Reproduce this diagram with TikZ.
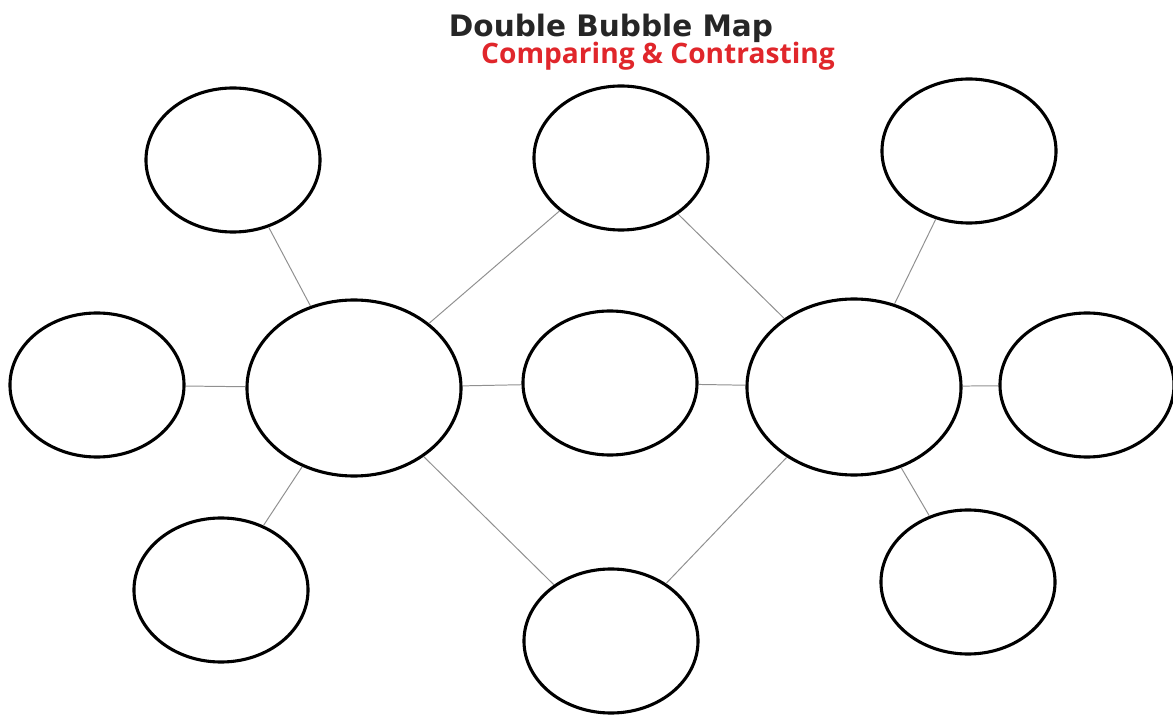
\documentclass[tikz,border=0pt]{standalone}
\usepackage{xcolor}
\usepackage{fontspec}
\setmainfont{Open Sans}
\newfontfamily\titlefont{DejaVu Sans}
\usepackage{tikz}
\usetikzlibrary{shapes.geometric}
\definecolor{inkred}{HTML}{E0262B}
\definecolor{linkgray}{HTML}{909090}
\tikzset{
  % Bubbles
  bub/.style={draw=black,line width=2.2pt,fill=white,ellipse,
              minimum width=4.35cm,minimum height=3.6cm,inner sep=0pt},
  bigbub/.style={draw=black,line width=2.2pt,fill=white,ellipse,
                 minimum width=5.35cm,minimum height=4.4cm,inner sep=0pt},
  % Connectors & titles
  lnk/.style={linkgray,line width=0.7pt},
  ttl/.style={font=\titlefont\fontsize{21}{23}\selectfont\bfseries,text=black!85,inner sep=0pt},
  subttl/.style={font=\fontsize{20}{22}\selectfont\bfseries,text=inkred,inner sep=0pt}
}
\begin{document}
\begin{tikzpicture}[x=0.025cm,y=-0.025cm]
  \useasboundingbox (0,0) rectangle (1173,715);

  % Titles
  \node[ttl]    (title) at (611,28) {Double Bubble Map};
  \node[subttl] (sub)   at (658,56) {Comparing \& Contrasting};

  % Main bubbles
  \node[bigbub] (bl) at (354,388) {};
  \node[bigbub] (br) at (854,387) {};

  % Outer bubbles, left
  \node[bub] (lt) at (233,160) {};
  \node[bub] (lm) at (97,385)  {};
  \node[bub] (lb) at (221,590) {};

  % Shared bubbles, middle
  \node[bub] (mt) at (621,158) {};
  \node[bub] (mm) at (610,383) {};
  \node[bub] (mb) at (611,641) {};

  % Outer bubbles, right
  \node[bub] (rt) at (969,151) {};
  \node[bub] (rm) at (1087,385){};
  \node[bub] (rb) at (968,582) {};

  % Links, left side
  \draw[lnk] (lt) -- (bl);
  \draw[lnk] (lm) -- (bl);
  \draw[lnk] (lb) -- (bl);

  % Links through the middle
  \draw[lnk] (bl) -- (mt);
  \draw[lnk] (bl) -- (mm);
  \draw[lnk] (bl) -- (mb);
  \draw[lnk] (mt) -- (br);
  \draw[lnk] (mm) -- (br);
  \draw[lnk] (mb) -- (br);

  % Links, right side
  \draw[lnk] (rt) -- (br);
  \draw[lnk] (rm) -- (br);
  \draw[lnk] (rb) -- (br);
\end{tikzpicture}
\end{document}
